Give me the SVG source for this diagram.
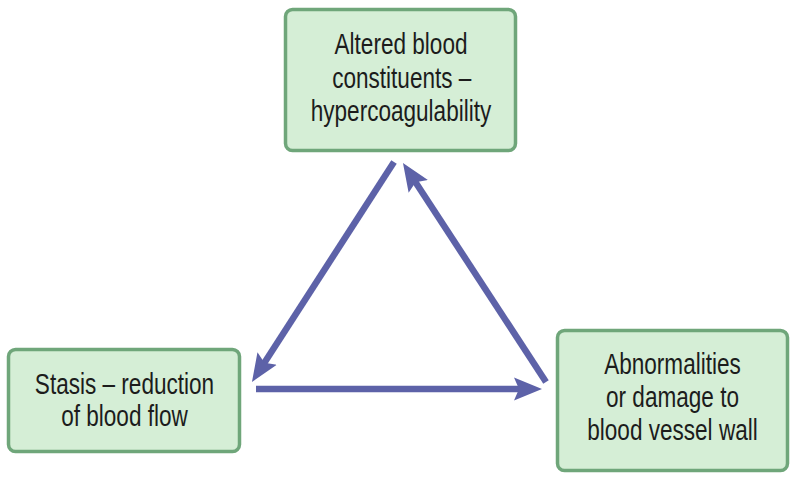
<svg xmlns="http://www.w3.org/2000/svg" width="801" height="479" viewBox="0 0 801 479">
<style>
.box{fill:#d5eed6;stroke:#6fa67a;stroke-width:3.5}
.lbl{font-family:"Liberation Sans",Arial,sans-serif;font-size:29.5px;fill:#1c1c1c;text-anchor:middle}
.conn{stroke:#5d62a8;stroke-width:6.5;fill:none}
</style>
<defs>
<marker id="ah" markerUnits="userSpaceOnUse" markerWidth="30" markerHeight="26" viewBox="0 -13 30 26" refX="8" refY="0" orient="auto">
<path d="M28,0 L0,-11.5 L5,0 L0,11.5 Z" fill="#5d62a8"/>
</marker>
</defs>
<rect width="801" height="479" fill="#ffffff"/>
<g id="connectors">
<line class="conn" x1="394" y1="162" x2="262.8" y2="365.2" marker-end="url(#ah)"/>
<line class="conn" x1="256" y1="389" x2="522" y2="389" marker-end="url(#ah)"/>
<line class="conn" x1="546" y1="382" x2="413.9" y2="179.7" marker-end="url(#ah)"/>
</g>
<g id="node-top">
<rect class="box" x="285.5" y="9.5" width="230" height="141" rx="7"/>
<g transform="translate(401,0) scale(0.765,1)">
<text class="lbl" x="0" y="54">Altered blood</text>
<text class="lbl" x="1" y="88">constituents –</text>
<text class="lbl" x="0" y="121">hypercoagulability</text>
</g>
</g>
<g id="node-left">
<rect class="box" x="8.5" y="349.5" width="231" height="102" rx="7"/>
<g transform="translate(124.5,0) scale(0.765,1)">
<text class="lbl" x="0" y="394">Stasis – reduction</text>
<text class="lbl" x="0" y="426">of blood flow</text>
</g>
</g>
<g id="node-right">
<rect class="box" x="557.5" y="330.5" width="230" height="140" rx="7"/>
<g transform="translate(672.5,0) scale(0.765,1)">
<text class="lbl" x="0" y="374">Abnormalities</text>
<text class="lbl" x="0" y="407">or damage to</text>
<text class="lbl" x="0" y="440">blood vessel wall</text>
</g>
</g>
</svg>
